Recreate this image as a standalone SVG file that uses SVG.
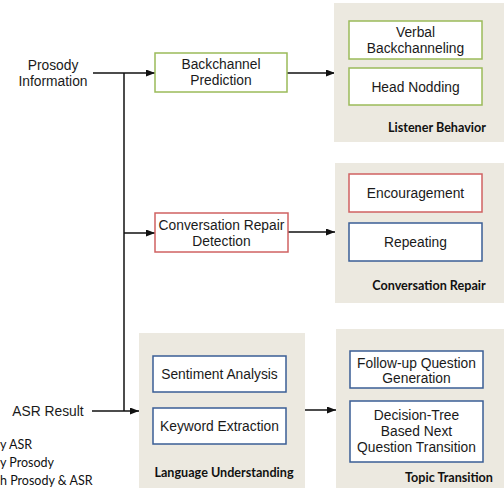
<svg xmlns="http://www.w3.org/2000/svg" width="504" height="491" viewBox="0 0 504 491">
<style>
.panel{fill:#ECE9E0;stroke:none}
.box{fill:#fff;stroke-width:1.5}
.g{stroke:#9BBB59}
.r{stroke:#D06262}
.b{stroke:#3A5E95}
.t{font-family:"Liberation Sans",Arial,sans-serif;font-size:13.8px;fill:#1a1a1a;text-anchor:middle}
.pl{font-family:Lato,"Open Sans",sans-serif;font-weight:bold;font-size:12.6px;fill:#111;text-anchor:middle}
.lg{font-family:Lato,"Open Sans",sans-serif;font-size:12.5px;fill:#111}
.ln{stroke:#111;stroke-width:1.5;fill:none}
</style>
<defs>
<marker id="ah" markerWidth="9" markerHeight="7" refX="9" refY="3.5" orient="auto" markerUnits="userSpaceOnUse">
<path d="M0,0 L9,3.5 L0,7 Z" fill="#111"/>
</marker>
</defs>
<g id="connectors">
<path class="ln" d="M93,73 H155" marker-end="url(#ah)"/>
<path class="ln" d="M124,73 V411"/>
<path class="ln" d="M124,233 H155" marker-end="url(#ah)"/>
<path class="ln" d="M92,411 H139" marker-end="url(#ah)"/>
<path class="ln" d="M287,73 H335" marker-end="url(#ah)"/>
<path class="ln" d="M288,232 H335" marker-end="url(#ah)"/>
<path class="ln" d="M305,410 H336" marker-end="url(#ah)"/>
</g>
<g id="prosody-input"><text class="t" x="53" y="70">Prosody</text><text class="t" x="53" y="86">Information</text></g>
<g id="asr-input"><text class="t" x="48" y="415.5">ASR Result</text></g>
<g id="legend">
<text class="lg" x="0" y="449">y ASR</text>
<text class="lg" x="0" y="467">y Prosody</text>
<text class="lg" x="0" y="485">h Prosody &amp; ASR</text>
</g>
<g id="backchannel-prediction"><rect class="box g" x="155" y="53" width="132" height="39"/><text class="t" x="221" y="69">Backchannel</text><text class="t" x="221" y="84.5">Prediction</text></g>
<g id="conversation-repair-detection"><rect class="box r" x="155" y="213" width="133" height="39"/><text class="t" x="221.5" y="230">Conversation Repair</text><text class="t" x="221.5" y="245.5">Detection</text></g>
<g id="listener-behavior"><rect class="panel" x="334" y="3" width="170" height="139"/><text class="pl" x="437" y="132">Listener Behavior</text></g>
<g id="verbal-backchanneling"><rect class="box g" x="349" y="21" width="133" height="38"/><text class="t" x="415.5" y="37">Verbal</text><text class="t" x="415.5" y="52.5">Backchanneling</text></g>
<g id="head-nodding"><rect class="box g" x="349" y="68" width="133" height="37"/><text class="t" x="415.5" y="91.5">Head Nodding</text></g>
<g id="conversation-repair"><rect class="panel" x="335" y="163" width="169" height="140"/><text class="pl" x="429" y="290">Conversation Repair</text></g>
<g id="encouragement"><rect class="box r" x="349" y="174" width="133" height="38"/><text class="t" x="415.5" y="198">Encouragement</text></g>
<g id="repeating"><rect class="box b" x="349" y="223" width="133" height="38"/><text class="t" x="415.5" y="247">Repeating</text></g>
<g id="language-understanding"><rect class="panel" x="139" y="333" width="166" height="155"/><text class="pl" x="224" y="477">Language Understanding</text></g>
<g id="sentiment-analysis"><rect class="box b" x="153" y="356" width="133" height="36"/><text class="t" x="219.5" y="379">Sentiment Analysis</text></g>
<g id="keyword-extraction"><rect class="box b" x="153" y="408" width="133" height="36"/><text class="t" x="219.5" y="431">Keyword Extraction</text></g>
<g id="topic-transition"><rect class="panel" x="336" y="329" width="168" height="159"/><text class="pl" x="449" y="482">Topic Transition</text></g>
<g id="follow-up-question"><rect class="box b" x="350" y="351" width="133" height="37"/><text class="t" x="416.5" y="367.5">Follow-up Question</text><text class="t" x="416.5" y="383">Generation</text></g>
<g id="decision-tree"><rect class="box b" x="350" y="401" width="133" height="61"/><text class="t" x="416.5" y="419.5">Decision-Tree</text><text class="t" x="416.5" y="435.5">Based Next</text><text class="t" x="416.5" y="451.5">Question Transition</text></g>
</svg>
